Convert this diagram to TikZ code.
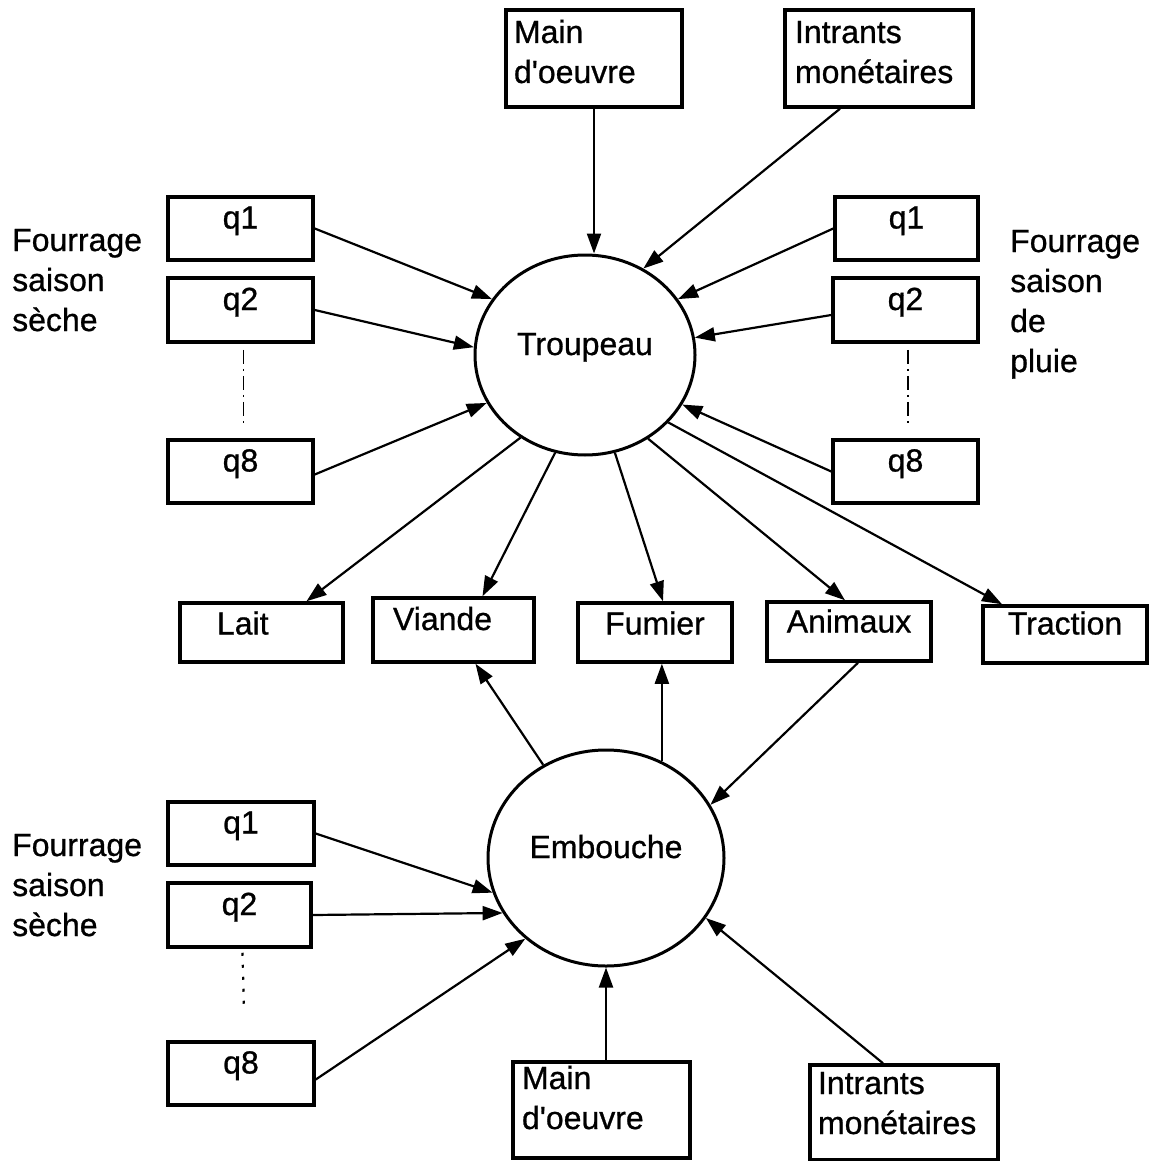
\documentclass[tikz,border=0pt]{standalone}
\usepackage{fontspec}
\setmainfont{Liberation Sans}[FakeBold=0.8]
\usetikzlibrary{arrows.meta,shapes.geometric}

\begin{document}
\begin{tikzpicture}[x=1pt,y=-1pt,
  every node/.style={font=\fontsize{32}{40}\selectfont, inner sep=0pt},
  box/.style={draw, line width=3.5pt, rectangle, text height=7pt, text depth=7pt},
  duo/.style={box, align=left, text height=23pt, inner xsep=8pt},
  pool/.style={draw, line width=3pt, ellipse, text height=7pt, text depth=7pt},
  flow/.style={line width=2.2pt, -{Triangle[length=20pt,width=14pt]}},
  gap/.style={line width=1.6pt, dash pattern=on 14pt off 5pt on 2pt off 5pt},
  dots/.style={line width=2.2pt, dash pattern=on 3pt off 9pt},
  note/.style={anchor=base west, align=left, text width=140pt}]

\useasboundingbox (0,0) rectangle (1149,1161);

% --- inputs of the herd ---
\node[duo, text width=160pt, text depth=54pt, minimum height=97pt] (mainT) at (594,58.5) {Main\\d\textquotesingle oeuvre};
\node[duo, inner xsep=10pt, text width=168pt, text depth=54pt, minimum height=97pt] (intT) at (879,58.5) {Intrants\\monétaires};

\node[box, minimum width=145pt, minimum height=63pt] (lq1) at (240.5,228.5) {q1};
\node[box, minimum width=145pt, minimum height=64pt] (lq2) at (240.5,310) {q2};
\node[box, minimum width=145pt, minimum height=63pt] (lq8) at (240.5,471.5) {q8};

\node[box, minimum width=143pt, minimum height=63pt] (rq1) at (906.5,228.5) {q1};
\node[box, minimum width=145pt, minimum height=64pt] (rq2) at (905.5,310) {q2};
\node[box, minimum width=145pt, minimum height=63pt] (rq8) at (905.5,471.5) {q8};

\node[note] (lblTL) at (12,251) {Fourrage\\saison\\sèche};
\node[note] (lblTR) at (1010,252) {Fourrage\\saison\\de\\pluie};

% --- herd ---
\node[pool, minimum width=220pt, minimum height=200pt] (trp) at (585,355) {Troupeau};

% --- products ---
\node[box, align=left, text width=89pt, inner xsep=37pt, minimum height=59pt, text height=9pt, text depth=5pt] (lait) at (261.5,632.5) {Lait};
\node[box, align=left, text width=121pt, inner xsep=20pt, minimum height=64pt] (viande) at (453.5,630) {Viande};
\node[box, minimum width=154pt, minimum height=59pt, text height=9pt, text depth=5pt] (fumier) at (655,632.5) {Fumier};
\node[box, minimum width=164pt, minimum height=59pt, text height=8pt, text depth=6pt] (animaux) at (849,631.5) {Animaux};
\node[box, minimum width=164pt, minimum height=57pt] (traction) at (1065,634.5) {Traction};

% --- fattening ---
\node[pool, minimum width=236pt, minimum height=216pt] (emb) at (606,858) {Embouche};

\node[box, minimum width=146pt, minimum height=63pt] (bq1) at (241,833.5) {q1};
\node[box, minimum width=143pt, minimum height=64pt] (bq2) at (239.5,915) {q2};
\node[box, minimum width=146pt, minimum height=63pt] (bq8) at (241,1073.5) {q8};

\node[note] (lblBL) at (12,856) {Fourrage\\saison\\sèche};

\node[duo, inner xsep=9pt, text width=159pt, text depth=65pt, minimum height=96pt] (bMain) at (601.5,1110) {Main\\d\textquotesingle oeuvre};
\node[duo, text width=172pt, text depth=60pt, minimum height=95pt] (bInt) at (904,1112.5) {Intrants\\monétaires};

% --- flows into the herd ---
\draw[flow] (mainT.south) -- (mainT.south |- trp.north);
\draw[flow] ([xshift=-39pt]intT.south) -- (trp.56);
\draw[flow] (lq1.east) -- (trp.149);
\draw[flow] (lq2.east) -- (trp.176);
\draw[flow] ([yshift=-3pt]lq8.east) -- (trp.206);
\draw[flow] (rq1.west) -- (trp.31);
\draw[flow] ([yshift=-5pt]rq2.west) -- (trp.9);
\draw[flow] (rq8.west) -- (trp.333);

% --- flows out of the herd ---
\draw[flow] (trp.232) -- ([xshift=45pt]lait.north);
\draw[flow] (trp.253) -- ([xshift=29pt]viande.north);
\draw[flow] (trp.287) -- ([xshift=8pt]fumier.north);
\draw[flow] (trp.307) -- ([xshift=-4pt]animaux.north);
\draw[flow] (trp.321) -- ([xshift=-63pt]traction.north);

% --- fattening flows ---
\draw[flow] (emb.124) -- ([xshift=22pt]viande.south);
\draw[flow] (emb.60) -- (emb.60 |- fumier.south);
\draw[flow] ([xshift=9pt]animaux.south) -- (emb.27);
\draw[flow] (bq1.east) -- (emb.197);
\draw[flow] (bq2.east) -- (emb.208);
\draw[flow] ([yshift=-6pt]bq8.east) -- (emb.225);
\draw[flow] (bMain.north -| emb.south) -- (emb.south);
\draw[flow] ([xshift=-21pt]bInt.north) -- (emb.329);

% --- omitted q3 ... q7 ---
\draw[gap] ([xshift=3pt]lq2.south) ++(0,6) -- ([xshift=3pt,yshift=12pt]lq8.north);
\draw[gap] ([xshift=2.5pt]rq2.south) ++(0,6) -- ([xshift=2.5pt,yshift=12pt]rq8.north);
\draw[dots] ([xshift=3pt]bq2.south) ++(0,4) -- ([xshift=3pt,yshift=30pt]bq8.north);

\end{tikzpicture}
\end{document}
